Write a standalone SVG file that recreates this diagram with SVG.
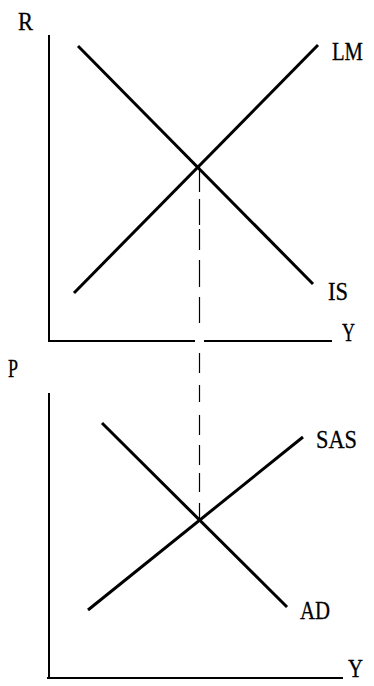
<svg xmlns="http://www.w3.org/2000/svg" width="374" height="686" viewBox="0 0 374 686">
<style>
.axis{stroke:#000;stroke-width:2;fill:none}
.curve{stroke:#000;stroke-width:3;fill:none;stroke-linecap:butt}
.dash{stroke:#000;stroke-width:1.2;fill:none;stroke-dasharray:25 7 26 4 21 10 27 10 26 30 20 12 17 13 20 10 20 8 19 11 18}
text{font-family:"Liberation Serif","Times New Roman",serif;font-size:26px;fill:#000;stroke:#000;stroke-width:0.3}
</style>
<rect width="374" height="686" fill="#fff"/>
<g id="top-axes">
<line class="axis" x1="49" y1="35" x2="49" y2="342"/>
<line class="axis" x1="48" y1="341" x2="195" y2="341"/>
<line class="axis" x1="204" y1="341" x2="332" y2="341"/>
<text x="18" y="30" textLength="15" lengthAdjust="spacingAndGlyphs">R</text>
<text x="342" y="341" textLength="13" lengthAdjust="spacingAndGlyphs">Y</text>
</g>
<g id="IS">
<line class="curve" x1="78" y1="46" x2="313" y2="284"/>
<text x="328" y="300" textLength="20" lengthAdjust="spacingAndGlyphs">IS</text>
</g>
<g id="LM">
<line class="curve" x1="74" y1="293" x2="318" y2="45"/>
<text x="332" y="60" textLength="31" lengthAdjust="spacingAndGlyphs">LM</text>
</g>
<g id="bottom-axes">
<line class="axis" x1="49" y1="393" x2="49" y2="679"/>
<line class="axis" x1="47" y1="678" x2="343" y2="678"/>
<text x="8" y="377" textLength="10" lengthAdjust="spacingAndGlyphs">P</text>
<text x="348" y="677" textLength="15" lengthAdjust="spacingAndGlyphs">Y</text>
</g>
<g id="AD">
<line class="curve" x1="102" y1="423" x2="287" y2="607"/>
<text x="300" y="619" textLength="30" lengthAdjust="spacingAndGlyphs">AD</text>
</g>
<g id="SAS">
<line class="curve" x1="88" y1="610" x2="303" y2="437"/>
<text x="316" y="448" textLength="41" lengthAdjust="spacingAndGlyphs">SAS</text>
</g>
<g id="connectors">
<line class="dash" x1="199.5" y1="167" x2="199.5" y2="521"/>
</g>
</svg>
